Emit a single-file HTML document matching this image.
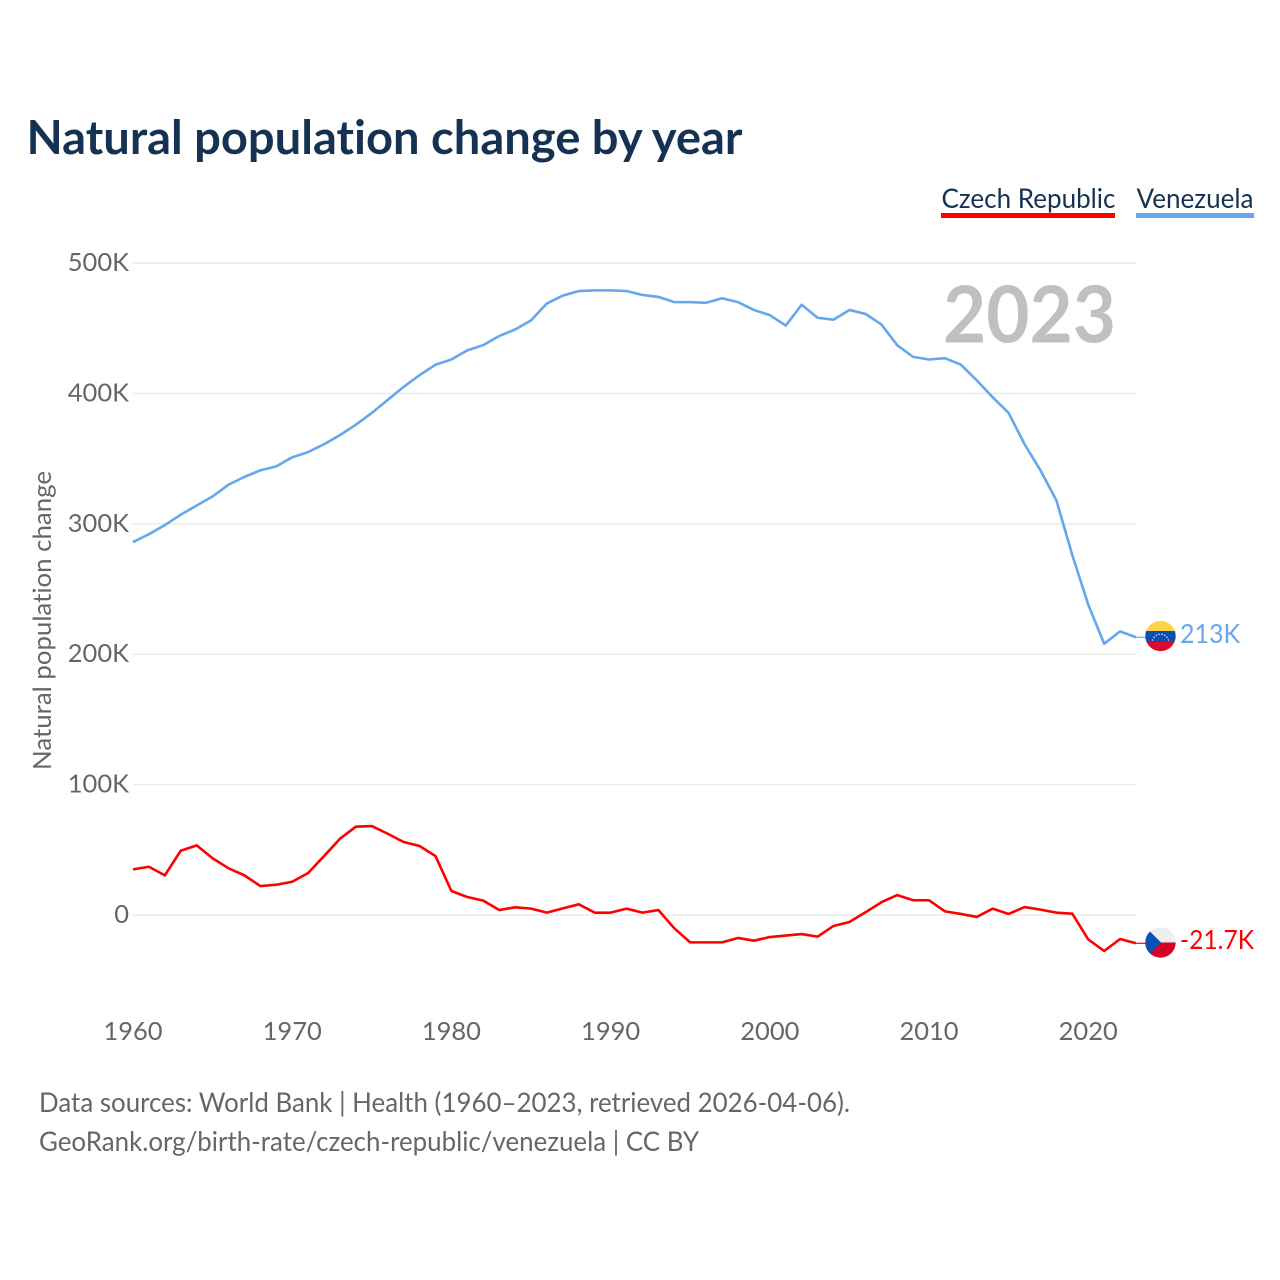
<!DOCTYPE html>
<html lang="en">
<head>
<meta charset="utf-8">
<title>Natural population change by year</title>
<style>
html,body{margin:0;padding:0;background:#fff;width:1280px;height:1280px;overflow:hidden}
svg{display:block;font-family:"Lato","Carlito","Liberation Sans",sans-serif;font-variant-ligatures:none}
</style>
</head>
<body>
<svg id="chart" xmlns="http://www.w3.org/2000/svg" width="1280" height="1280" viewBox="0 0 1280 1280">
  <defs>
    <clipPath id="flag-clip-ve"><circle cx="1160.5" cy="636" r="15.2"/></clipPath>
    <clipPath id="flag-clip-cz"><circle cx="1160.5" cy="942.5" r="15.2"/></clipPath>
  </defs>
  <text x="26.5" y="154" font-size="47" font-weight="700" fill="#163253" textLength="716" lengthAdjust="spacingAndGlyphs">Natural population change by year</text>

  <g id="grid"></g>
  <g id="y-ticks"></g>
  <g id="x-ticks"></g>

  <text transform="translate(51 620.5) rotate(-90)" text-anchor="middle" font-size="25.5" fill="#666" textLength="299" lengthAdjust="spacingAndGlyphs">Natural population change</text>

  <text x="943" y="342.5" font-size="79" font-weight="700" fill="#c0c0c0" textLength="173" lengthAdjust="spacingAndGlyphs">2023</text>

  <g id="series"></g>

  <g>
    <text x="941.5" y="208" font-size="27.5" fill="#163253" textLength="174" lengthAdjust="spacingAndGlyphs">Czech Republic</text>
    <rect x="941" y="213" width="174" height="5" fill="#ff0000"/>
  </g>
  <g>
    <text x="1136.5" y="208" font-size="27.5" fill="#163253" textLength="117" lengthAdjust="spacingAndGlyphs">Venezuela</text>
    <rect x="1136" y="213" width="118" height="5" fill="#64a7ec"/>
  </g>

  <g clip-path="url(#flag-clip-ve)">
    <rect x="1145" y="620" width="31" height="11" fill="#ffd545"/>
    <rect x="1145" y="631" width="31" height="11" fill="#0b4fb0"/>
    <rect x="1145" y="642" width="31" height="11" fill="#dc0a2d"/>
    <g fill="#cfdcf0">
      <circle cx="1152.5" cy="640" r=".8"/><circle cx="1154" cy="637.3" r=".8"/><circle cx="1156.3" cy="635.3" r=".8"/><circle cx="1159" cy="634.3" r=".8"/><circle cx="1162" cy="634.3" r=".8"/><circle cx="1164.7" cy="635.3" r=".8"/><circle cx="1167" cy="637.3" r=".8"/><circle cx="1168.5" cy="640" r=".8"/>
    </g>
  </g>
  <text x="1180" y="643" font-size="26.5" fill="#64a7ec" textLength="60" lengthAdjust="spacingAndGlyphs">213K</text>

  <g clip-path="url(#flag-clip-cz)">
    <rect x="1145" y="927" width="31" height="15.5" fill="#eeeef0"/>
    <rect x="1145" y="942.5" width="31" height="16" fill="#d80027"/>
    <polygon points="1145,926.5 1161,942.5 1145,958.5" fill="#0b52b4"/>
  </g>
  <text x="1180" y="949" font-size="26.5" fill="#ff0000" textLength="74" lengthAdjust="spacingAndGlyphs">-21.7K</text>

  <text x="39" y="1112" font-size="27" fill="#666" textLength="811" lengthAdjust="spacingAndGlyphs">Data sources: World Bank | Health (1960–2023, retrieved 2026-04-06).</text>
  <text x="39" y="1151" font-size="27" fill="#666" textLength="660" lengthAdjust="spacingAndGlyphs">GeoRank.org/birth-rate/czech-republic/venezuela | CC BY</text>
</svg>
<script>
const startYear = 1960;
const xTickYears = [1960, 1970, 1980, 1990, 2000, 2010, 2020];
const yTickValues = [0, 100, 200, 300, 400, 500];
const yTickLabels = ["0", "100K", "200K", "300K", "400K", "500K"];
const venezuelaValues = [286, 292, 299, 307, 314, 321, 330, 336, 341, 344, 351, 355, 361, 368, 376, 385, 395, 405, 414, 422, 426, 433, 437, 444, 449, 456, 469, 475, 478.5, 479, 479, 478.5, 475.5, 474, 470, 470, 469.5, 473, 470, 464, 460, 452, 468, 458, 456.5, 464, 461, 453, 437, 428, 426, 427, 422, 410, 397, 385, 361, 341, 318, 276, 238, 208, 217.5, 213];
const czechValues = [35, 37, 30.4, 49.3, 53.4, 43.5, 35.8, 30.4, 22.2, 23.2, 25.5, 32.2, 45.2, 58.5, 67.7, 68.2, 62.3, 56, 52.9, 45.2, 18.4, 13.8, 11, 3.8, 5.9, 4.9, 1.8, 5.1, 8.2, 1.8, 1.8, 4.9, 1.8, 3.8, -10.2, -21, -21, -21, -17.6, -19.7, -16.9, -15.8, -14.6, -16.6, -8.4, -5.4, 2, 9.7, 15.3, 11.3, 11.3, 2.8, 0.8, -1.5, 4.9, 0.8, 6.1, 4.1, 1.8, 1, -18.7, -27.6, -18.4, -21.7];

const NS = "http://www.w3.org/2000/svg";
function xScale(year) { return 133 + (year - 1960) * (1136 - 133) / 63; }
function yScale(value) { return 915 - value * (915 - 263) / 500; }
function make(tag, attrs, parent) {
  const el = document.createElementNS(NS, tag);
  for (const k in attrs) el.setAttribute(k, attrs[k]);
  parent.appendChild(el);
  return el;
}
const grid = document.getElementById("grid");
const yTicks = document.getElementById("y-ticks");
const xTicks = document.getElementById("x-ticks");
const seriesGroup = document.getElementById("series");

yTickValues.forEach(function (v, i) {
  const line = make("line", { x1: 133, x2: 1136, y1: yScale(v), y2: yScale(v), stroke: "#ececec", "stroke-width": 1.6 }, grid);
  
  
  const label = make("text", { x: 129, y: yScale(v) + 8, "text-anchor": "end", "font-size": 25.5, fill: "#666" }, yTicks);
  
  
  label.textContent = yTickLabels[i];
});
xTickYears.forEach(function (yr) {
  const label = make("text", { x: xScale(yr), y: 1040, "text-anchor": "middle", "font-size": 25.5, fill: "#666" }, xTicks);
  
  
  label.textContent = yr;
});
function points(values) {
  return values.map(function (v, i) { return xScale(startYear + i).toFixed(2) + "," + yScale(v).toFixed(2); }).join(" ");
}
const veLine = make("polyline", { points: points(venezuelaValues), fill: "none", stroke: "#64a7ec", "stroke-width": 2.6, "stroke-linejoin": "round" }, seriesGroup);


const czLine = make("polyline", { points: points(czechValues), fill: "none", stroke: "#ff0000", "stroke-width": 2.6, "stroke-linejoin": "round" }, seriesGroup);


const lastYear = startYear + venezuelaValues.length - 1;
const veStub = make("line", { x1: xScale(lastYear), x2: 1146, y1: yScale(venezuelaValues[venezuelaValues.length - 1]), y2: yScale(venezuelaValues[venezuelaValues.length - 1]), stroke: "#64a7ec", "stroke-width": 1.2 }, seriesGroup);


const czStub = make("line", { x1: xScale(lastYear), x2: 1146, y1: yScale(czechValues[czechValues.length - 1]), y2: yScale(czechValues[czechValues.length - 1]), stroke: "#ff0000", "stroke-width": 1.2 }, seriesGroup);


</script>
</body>
</html>
